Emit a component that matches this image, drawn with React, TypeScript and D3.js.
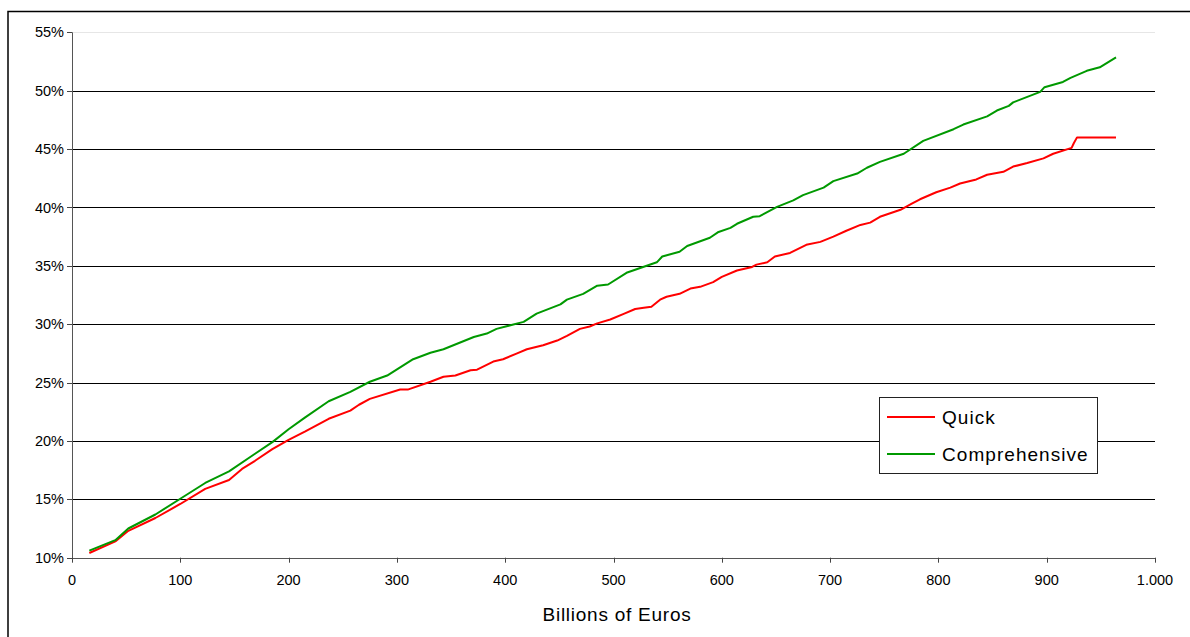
import React from "react";
import * as d3 from "d3";

const quickX = [16,40,52,77,100,123,145,157,169,185,200,215,237,257,265,275,303,310,331,343,354,368,374,389,398,411,420,435,448,457,469,478,485,497,510,520,528,535,543,549,561,571,580,592,600,614,628,632,642,649,663,678,691,703,715,728,737,746,765,775,783,798,811,820,835,845,860,869,882,897,906,923,925,928,964];
const quickY = [10.4,11.4,12.3,13.4,14.6,15.9,16.65,17.6,18.3,19.3,20.1,20.8,21.9,22.6,23.1,23.6,24.4,24.4,25.07,25.5,25.6,26.05,26.1,26.8,27.0,27.5,27.85,28.2,28.6,29.0,29.6,29.8,30.07,30.4,30.9,31.3,31.4,31.5,32.1,32.35,32.6,33.05,33.2,33.6,34.05,34.6,34.9,35.1,35.3,35.8,36.1,36.8,37.05,37.5,38.0,38.5,38.7,39.2,39.8,40.3,40.7,41.3,41.7,42.05,42.4,42.8,43.05,43.5,43.8,44.2,44.6,45.1,45.5,46.0,46.0];

const compX = [16,40,52,77,100,123,145,169,185,200,215,237,257,275,291,315,331,343,371,383,392,417,429,451,457,472,485,495,512,540,545,561,568,589,597,608,614,629,635,651,666,675,694,703,725,734,746,768,786,814,823,845,854,865,869,894,898,915,922,937,949,964];
const compY = [10.6,11.5,12.5,13.7,15.05,16.4,17.4,18.9,19.9,21.0,22.0,23.4,24.2,25.07,25.6,27.0,27.55,27.85,28.9,29.2,29.6,30.2,30.9,31.7,32.1,32.6,33.3,33.4,34.4,35.3,35.8,36.2,36.7,37.4,37.9,38.25,38.6,39.2,39.25,40.05,40.6,41.05,41.7,42.25,42.9,43.4,43.9,44.6,45.7,46.7,47.1,47.8,48.3,48.7,49.0,49.9,50.3,50.75,51.1,51.7,52.0,52.85];

const xTicks = [0,100,200,300,400,500,600,700,800,900,1000];
const yTicks = [10,15,20,25,30,35,40,45,50,55];
const seriesNames = ["Quick", "Comprehensive"];
const seriesColors = ["#ff0000", "#009900"];
const xTitle = "Billions of Euros";

const W = 1190, H = 637;
const L = 72, R = 1155, T = 32.3, B = 557.7;
const font = "'Liberation Sans', Arial, sans-serif";

export default function App() {
  const x = d3.scaleLinear().domain([0, 1000]).range([L, R]);
  const y = d3.scaleLinear().domain([10, 55]).range([B, T]);
  const line = d3.line<[number, number]>().x(d => x(d[0])).y(d => y(d[1]));
  const qPts = quickX.map((v, i) => [v, quickY[i]] as [number, number]);
  const cPts = compX.map((v, i) => [v, compY[i]] as [number, number]);
  const fmtX = (v: number) => (v >= 1000 ? d3.format(",")(v).replace(",", ".") : String(v));

  return (
    <svg width={W} height={H} style={{ position: "absolute", left: 0, top: 0, background: "#fff" }}>
      <rect x={8} y={11.5} width={W + 10} height={H + 10} fill="#fff" stroke="#000" strokeWidth={1.5} />
      {yTicks.map(t => (
        <g key={t}>
          <line x1={L} x2={R} y1={Math.round(y(t)) + 0.5} y2={Math.round(y(t)) + 0.5}
            stroke={t === 55 ? "#e6e6e6" : "#000"} strokeWidth={1} />
          <line x1={L - 5} x2={L} y1={Math.round(y(t)) + 0.5} y2={Math.round(y(t)) + 0.5} stroke="#444" />
          <text x={L - 8} y={y(t)} dy="0.35em" textAnchor="end" fontFamily={font} fontSize={14.5} fill="#000">{t}%</text>
        </g>
      ))}
      <line x1={L + 0.5} x2={L + 0.5} y1={T} y2={B + 1} stroke="#555" />
      <line x1={L} x2={R} y1={Math.round(B) + 0.5} y2={Math.round(B) + 0.5} stroke="#555" />
      {xTicks.map(t => (
        <g key={t}>
          <line x1={Math.round(x(t)) + 0.5} x2={Math.round(x(t)) + 0.5} y1={B} y2={B + 5} stroke="#444" />
          <text x={x(t)} y={580} dy="0.35em" textAnchor="middle" fontFamily={font} fontSize={14.5} fill="#000">{fmtX(t)}</text>
        </g>
      ))}
      <text x={617} y={614} dy="0.35em" textAnchor="middle" fontFamily={font} fontSize={19} letterSpacing={0.75} fill="#000">{xTitle}</text>
      <path d={line(qPts) || ""} fill="none" stroke={seriesColors[0]} strokeWidth={2} strokeLinejoin="round" />
      <path d={line(cPts) || ""} fill="none" stroke={seriesColors[1]} strokeWidth={2} strokeLinejoin="round" />
      <rect x={879.5} y={397.5} width={218} height={76} fill="#fff" stroke="#222" strokeWidth={1} />
      {seriesNames.map((n, i) => (
        <g key={n}>
          <line x1={887} x2={935} y1={417 + i * 37} y2={417 + i * 37} stroke={seriesColors[i]} strokeWidth={2} />
          <text x={942} y={417 + i * 37} dy="0.35em" fontFamily={font} fontSize={19} letterSpacing={1.05} fill="#000">{n}</text>
        </g>
      ))}
    </svg>
  );
}
